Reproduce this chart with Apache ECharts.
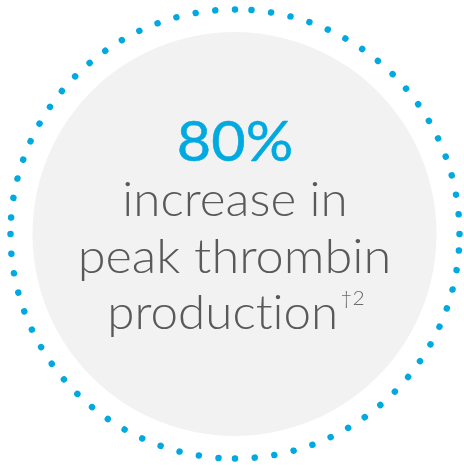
<!DOCTYPE html>
<html>
<head>
<meta charset="utf-8">
<script src="https://cdn.jsdelivr.net/npm/echarts@6/dist/echarts.min.js"></script>
<style>
html,body{margin:0;padding:0;background:#fff;}
#main{width:464px;height:466px;}
</style>
</head>
<body>
<div id="main"></div>
<script>
// ---- content ----
const headline = ['80%'];
const bodyLines = ['increase in', 'peak thrombin', 'production'];
const footnoteMark = ['†2'];

// ---- style ----
const BLUE = '#00a9e0';
const GRAY_TEXT = '#595959';
const FILL = '#f2f2f2';
const CX = 235, CY = 234;

const chart = echarts.init(document.getElementById('main'), null, {renderer: 'canvas'});

const dotArcs = [0, Math.PI / 2, Math.PI, Math.PI * 1.5].map(function (s) {
  return {
    type: 'arc',
    shape: {cx: CX, cy: CY, r: 224.5, startAngle: s, endAngle: s - Math.PI / 2 + 0.03, clockwise: false},
    style: {stroke: BLUE, fill: null, lineWidth: 6.5, lineCap: 'round', lineDash: [0.01, 19.75]},
    silent: true
  };
});

const bodyY = [201, 258, 312];
const BODY_FONT = '300 47px Lato';

// split "production" into two drawn runs so the font's "ti" ligature is not applied
const last = bodyLines[2];
const cut = last.indexOf('ti');
const lastA = last.slice(0, cut + 1);
const lastB = last.slice(cut + 1);

const option = {
  backgroundColor: '#ffffff',
  graphic: {
    elements: [
      {type: 'circle', shape: {cx: CX - 0.5, cy: CY, r: 202}, style: {fill: FILL}, silent: true}
    ].concat(dotArcs).concat([
      {
        type: 'text', x: CX, y: 143, scaleX: 1.04,
        style: {text: headline[0], fill: BLUE, stroke: BLUE, lineWidth: 0.5, font: '400 57px Lato', align: 'center', verticalAlign: 'middle'}
      },
      {
        type: 'text', x: CX, y: bodyY[0], scaleX: 1.05,
        style: {text: bodyLines[0], fill: GRAY_TEXT, font: BODY_FONT, align: 'center', verticalAlign: 'middle'}
      },
      {
        type: 'text', x: CX - 0.5, y: bodyY[1], scaleX: 1.075,
        style: {text: bodyLines[1], fill: GRAY_TEXT, font: BODY_FONT, align: 'center', verticalAlign: 'middle'}
      },
      {
        type: 'text', x: CX + 1, y: bodyY[2], scaleX: 1.05,
        style: {
          text: '{m|' + lastA + '}{m|' + lastB + '}{s|' + footnoteMark[0] + '}',
          align: 'center', verticalAlign: 'middle',
          rich: {
            m: {fill: GRAY_TEXT, font: BODY_FONT, lineHeight: 50, verticalAlign: 'bottom'},
            s: {fill: '#6a6a6a', font: '300 20px Lato', lineHeight: 50, verticalAlign: 'top', padding: [2, 0, 0, 2]}
          }
        }
      }
    ])
  }
};
chart.setOption(option);
</script>
</body>
</html>
